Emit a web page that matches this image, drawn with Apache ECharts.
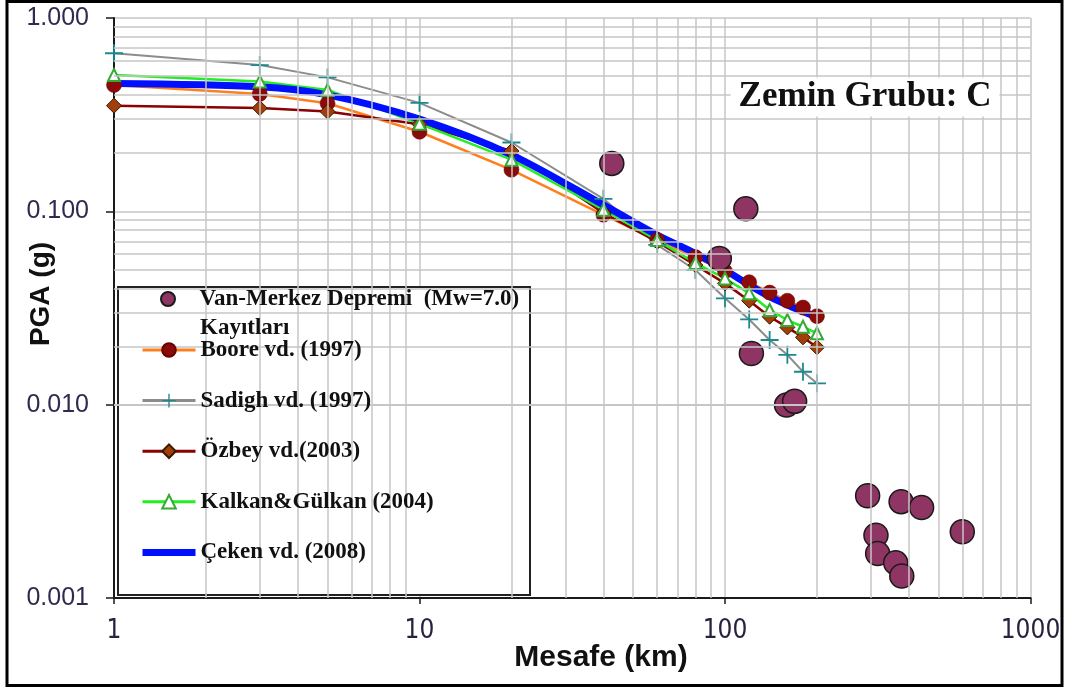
<!DOCTYPE html>
<html>
<head>
<meta charset="utf-8">
<title>PGA - Mesafe</title>
<script src="https://cdn.jsdelivr.net/npm/echarts@6/dist/echarts.min.js"></script>
<style>
  html, body { margin: 0; padding: 0; background: #fff; }
  #chart { width: 1067px; height: 688px; }
</style>
</head>
<body>
<div id="chart"></div>
<script>
// Distances (km) at which the attenuation relations are evaluated
const distances = [1, 3, 5, 10, 20, 40, 60, 80, 100, 120, 140, 160, 180, 200];

// PGA (g) predicted by each relation
const boore1997   = [0.450, 0.405, 0.362, 0.258, 0.164, 0.096, 0.071, 0.058, 0.049, 0.043, 0.038, 0.0345, 0.0318, 0.0287];
const sadigh1997  = [0.657, 0.571, 0.493, 0.364, 0.227, 0.116, 0.067, 0.0497, 0.0355, 0.0276, 0.0216, 0.0181, 0.0148, 0.0129];
const ozbey2003   = [0.352, 0.342, 0.328, 0.282, 0.205, 0.098, 0.0696, 0.0527, 0.0424, 0.0345, 0.0285, 0.0251, 0.0223, 0.0198];
const kalkan2004  = [0.507, 0.470, 0.424, 0.284, 0.185, 0.102, 0.071, 0.054, 0.045, 0.0377, 0.0309, 0.0274, 0.0253, 0.0234];
const ceken2008   = [0.459, 0.441, 0.400, 0.300, 0.196, 0.108, 0.0754, 0.0606, 0.0497, 0.0416, 0.0362, 0.0328, 0.0303, 0.0283];

// Van-Merkez earthquake records: [distance km, PGA g]
const vanRecords = [
  [42.6, 0.177], [117, 0.103], [95.8, 0.0571], [122, 0.0184],
  [159, 0.00995], [169, 0.0104], [293, 0.00338], [377, 0.00315],
  [440, 0.00294], [312, 0.00211], [316, 0.00170], [362, 0.00152],
  [379, 0.00130], [598, 0.00220]
];

// Log grid: decades and the intermediate multipliers
const xDecades = [1, 10, 100];
const yDecades = [0.001, 0.01, 0.1];
const minorSteps = [2, 3, 4, 5, 6, 7, 8, 9];

const seriesNames = {
  van: 'Van-Merkez Depremi  (Mw=7.0)',
  boore: 'Boore vd. (1997)',
  sadigh: 'Sadigh vd. (1997)',
  ozbey: 'Özbey vd.(2003)',
  kalkan: 'Kalkan&Gülkan (2004)',
  ceken: 'Çeken vd. (2008)'
};

const pair = arr => distances.map((d, i) => [d, arr[i]]);

const gridColor = '#c6c6c6';
const minorLines = [];
xDecades.forEach(d => minorSteps.forEach(k => minorLines.push({ xAxis: d * k })));
yDecades.forEach(d => minorSteps.forEach(k => minorLines.push({ yAxis: d * k })));

const plusPath = 'path://M-1,-10 L1,-10 L1,10 L-1,10 Z M-10,-1 L10,-1 L10,1 L-10,1 Z';
const serif = '"Liberation Serif", "Times New Roman", serif';
const legendText = { fontFamily: serif, fontWeight: 'bold', fontSize: 23, color: '#111', lineHeight: 26 };

const chart = echarts.init(document.getElementById('chart'), null, { renderer: 'canvas' });

chart.setOption({
  animation: false,
  backgroundColor: '#fff',
  grid: { left: 114, right: 36.5, top: 18, bottom: 90, containLabel: false, outerBoundsMode: 'none' },
  xAxis: {
    type: 'log', logBase: 10, min: 1, max: 1000,
    axisLine: { lineStyle: { color: '#1a1a1a', width: 2 } },
    axisTick: { show: true, inside: false, length: 6, lineStyle: { color: '#1a1a1a', width: 1.5 } },
    axisLabel: {
      margin: 20, color: '#2a2040',
      fontFamily: '"Liberation Sans Narrow", "Arial Narrow", "DejaVu Sans Condensed", sans-serif',
      fontSize: 26,
      formatter: v => String(Math.round(v))
    },
    splitLine: { show: true, lineStyle: { color: gridColor, width: 1.5 } }
  },
  yAxis: {
    type: 'log', logBase: 10, min: 0.001, max: 1,
    axisLine: { show: true, lineStyle: { color: '#1a1a1a', width: 2 } },
    axisTick: { show: true, inside: false, length: 8, lineStyle: { color: '#1a1a1a', width: 1.5 } },
    axisLabel: {
      margin: 25, color: '#2e2a50',
      fontFamily: '"Liberation Sans", Arial, sans-serif', fontSize: 25,
      formatter: v => Number(v).toFixed(3)
    },
    splitLine: { show: true, lineStyle: { color: gridColor, width: 1.5 } }
  },
  legend: [
    {
      data: [seriesNames.van],
      orient: 'vertical', left: 160, top: 286, padding: 0,
      itemWidth: 53, itemHeight: 14, itemGap: 0, z: 6,
      textStyle: legendText
    },
    {
      data: [
        { name: seriesNames.boore, lineStyle: { width: 3 } },
        { name: seriesNames.sadigh, lineStyle: { width: 3 } },
        { name: seriesNames.ozbey, lineStyle: { width: 3 } },
        { name: seriesNames.kalkan, lineStyle: { width: 3 } },
        { name: seriesNames.ceken, lineStyle: { width: 7 }, itemStyle: { opacity: 0 } }
      ],
      orient: 'vertical', left: 139, top: 337, padding: 0,
      itemWidth: 53, itemHeight: 17, itemGap: 24.6, z: 6,
      textStyle: legendText
    }
  ],
  graphic: [
    {
      type: 'rect', z: 3, silent: true,
      shape: { x: 118, y: 287, width: 412, height: 308 },
      style: { fill: '#fff', stroke: '#222', lineWidth: 2 }
    },
    {
      type: 'text', z: 6, silent: true,
      style: { text: 'Kayıtları', x: 200, y: 328, align: 'left', verticalAlign: 'middle',
               font: 'bold 23px ' + serif, fill: '#111' }
    },
    {
      type: 'text', z: 6, silent: true,
      style: { text: 'Zemin Grubu: C', x: 865, y: 97, align: 'center', verticalAlign: 'middle',
               font: 'bold 35px ' + serif, fill: '#111', backgroundColor: '#fff', padding: [2, 8] }
    },
    {
      type: 'text', z: 6, silent: true, x: 41, y: 294, rotation: Math.PI / 2,
      style: { text: 'PGA (g)', x: 0, y: 0, align: 'center', verticalAlign: 'middle',
               font: 'bold 28px "Liberation Sans", Arial, sans-serif', fill: '#111' }
    },
    {
      type: 'text', z: 6, silent: true,
      style: { text: 'Mesafe (km)', x: 601, y: 658, align: 'center', verticalAlign: 'middle',
               font: 'bold 30px "Liberation Sans", Arial, sans-serif', fill: '#111' }
    },
    {
      type: 'rect', z: 10, silent: true,
      shape: { x: 7, y: 1.5, width: 1055, height: 684 },
      style: { fill: 'none', stroke: '#000', lineWidth: 3 }
    }
  ],
  series: [
    {
      name: 'grid', type: 'line', data: [[1, 1]], symbol: 'none', silent: true, z: 1,
      lineStyle: { opacity: 0 },
      markLine: {
        silent: true, symbol: ['none', 'none'], label: { show: false },
        lineStyle: { color: gridColor, width: 1.5, type: 'solid' },
        emphasis: { disabled: true },
        data: minorLines
      }
    },
    {
      name: seriesNames.boore, type: 'line', data: pair(boore1997), z: 2,
      symbol: 'circle', symbolSize: 15,
      lineStyle: { color: '#ff7f1e', width: 2.5 },
      itemStyle: { color: '#8b0a0a', borderColor: '#6a0000', borderWidth: 0.5 }
    },
    {
      name: seriesNames.sadigh, type: 'line', data: pair(sadigh1997), z: 2,
      symbol: plusPath, symbolSize: 18,
      lineStyle: { color: '#8c8c8c', width: 2 },
      itemStyle: { color: '#1b8a8f' }
    },
    {
      name: seriesNames.ozbey, type: 'line', data: pair(ozbey2003), z: 2,
      symbol: 'diamond', symbolSize: 15,
      lineStyle: { color: '#8b0000', width: 2.5 },
      itemStyle: { color: '#a33d0a', borderColor: '#3a1800', borderWidth: 1 }
    },
    {
      name: seriesNames.kalkan, type: 'line', data: pair(kalkan2004), z: 2,
      symbol: 'emptyTriangle', symbolSize: 12,
      lineStyle: { color: '#22ee22', width: 2.5 },
      itemStyle: { color: '#33aa33', borderWidth: 1.2 }
    },
    {
      name: seriesNames.ceken, type: 'line', data: pair(ceken2008), z: 2,
      symbol: 'none', smooth: 0.3,
      lineStyle: { color: '#0010ff', width: 7 },
      itemStyle: { color: '#0010ff' }
    },
    {
      name: seriesNames.van, type: 'scatter', data: vanRecords, z: 3,
      symbol: 'circle', symbolSize: 24,
      itemStyle: { color: '#8e3563', borderColor: '#1a1a1a', borderWidth: 1.5, opacity: 1 }
    }
  ]
});
</script>
</body>
</html>
